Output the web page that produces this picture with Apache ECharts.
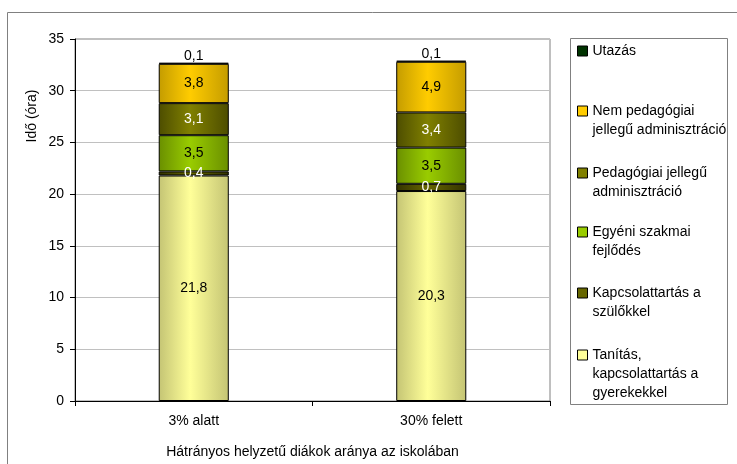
<!DOCTYPE html>
<html>
<head>
<meta charset="utf-8">
<script src="https://cdn.jsdelivr.net/npm/echarts@6/dist/echarts.min.js"></script>
<style>
  html, body { margin: 0; padding: 0; background: #fff; }
  #chart { width: 737px; height: 464px; }
</style>
</head>
<body>
<div id="chart"></div>
<script>
// kategóriák és értékek (óra)
const categories = ["3% alatt", "30% felett"];
const tanitas = [21.8, 20.3];
const szulok = [0.4, 0.7];
const fejlodes = [3.5, 3.5];
const pedAdmin = [3.1, 3.4];
const nemPedAdmin = [3.8, 4.9];
const utazas = [0.1, 0.1];
const yTicks = { min: 0, max: 35, interval: 5 };

const FONT = "Liberation Sans, Arial, sans-serif";

function grad(edge, mid) {
  return new echarts.graphic.LinearGradient(0, 0, 1, 0, [
    { offset: 0, color: edge },
    { offset: 0.45, color: mid },
    { offset: 1, color: edge },
  ]);
}

const fmt = (p) => String(p.value).replace(".", ",");

// sorozatok alulról felfelé
const seriesDefs = [
  { name: "Tanítás", data: tanitas, edge: "#c4c474", mid: "#ffff99", solid: "#ffff99", label: "#000", legend: ["Tanítás,", "kapcsolattartás a", "gyerekekkel"], y: 354 },
  { name: "Kapcsolattartás a szülőkkel", data: szulok, edge: "#333300", mid: "#666600", solid: "#666600", label: "#fff", legend: ["Kapcsolattartás a", "szülőkkel"], y: 292 },
  { name: "Egyéni szakmai fejlődés", data: fejlodes, edge: "#6a8f00", mid: "#99cc00", solid: "#99cc00", label: "#000", legend: ["Egyéni szakmai", "fejlődés"], y: 231 },
  { name: "Pedagógiai jellegű adminisztráció", data: pedAdmin, edge: "#4d4d00", mid: "#808000", solid: "#808000", label: "#fff", legend: ["Pedagógiai jellegű", "adminisztráció"], y: 172 },
  { name: "Nem pedagógiai jellegű adminisztráció", data: nemPedAdmin, edge: "#c49c00", mid: "#ffcc00", solid: "#ffcc00", label: "#000", legend: ["Nem pedagógiai", "jellegű adminisztráció"], y: 110 },
  { name: "Utazás", data: utazas, edge: "#003300", mid: "#003300", solid: "#003300", label: "#000", legend: ["Utazás"], y: 50 },
];

const LH = 19;

const series = seriesDefs.map((s, i) => ({
  name: s.name,
  type: "bar",
  stack: "ido",
  barWidth: "29.5%",
  data: s.data,
  itemStyle: { color: grad(s.edge, s.mid), borderColor: "#000", borderWidth: 1 },
  label: {
    show: true,
    position: i === seriesDefs.length - 1 ? "top" : "inside",
    distance: 0,
    color: s.label,
    fontFamily: FONT,
    fontSize: 14,
    formatter: fmt,
  },
  emphasis: { disabled: true },
}));

// a legenda szövege középre igazodik, ezért üres sorokkal toljuk az első sort az ikon mellé
const legends = seriesDefs.map((s) => {
  const n = s.legend.length;
  const pad = new Array(n - 1).fill(" ");
  return {
    data: [s.name],
    orient: "vertical",
    left: 577,
    top: s.y - ((2 * n - 1) * LH) / 2 + 1,
    padding: 0,
    icon: "rect",
    itemWidth: 10,
    itemHeight: 10,
    selectedMode: false,
    itemStyle: { color: s.solid, borderColor: "#000", borderWidth: 1 },
    formatter: () => pad.concat(s.legend).join("\n"),
    textStyle: {
      fontFamily: FONT,
      fontSize: 14,
      color: "#000",
      lineHeight: LH,
    },
  };
});

const chart = echarts.init(document.getElementById("chart"));
chart.setOption({
  animation: false,
  backgroundColor: "#fff",
  grid: {
    left: 75,
    right: 187,
    top: 39,
    bottom: 61,
    show: true,
    borderColor: "#808080",
    borderWidth: 1,
  },
  legend: legends,
  graphic: [
    {
      type: "rect",
      shape: { x: 7.5, y: 12.5, width: 800, height: 500 },
      style: { fill: "none", stroke: "#808080", lineWidth: 1 },
      silent: true,
    },
    {
      type: "rect",
      shape: { x: 570.5, y: 38.5, width: 157, height: 366 },
      style: { fill: "none", stroke: "#808080", lineWidth: 1 },
      silent: true,
    },
    {
      type: "text",
      x: 32,
      y: 116,
      rotation: Math.PI / 2,
      style: {
        text: "Idő (óra)",
        fontFamily: FONT,
        fontSize: 14,
        fill: "#000",
        align: "center",
        verticalAlign: "middle",
      },
      silent: true,
    },
  ],
  xAxis: {
    type: "category",
    data: categories,
    name: "Hátrányos helyzetű diákok aránya az iskolában",
    nameLocation: "middle",
    nameGap: 44,
    nameTextStyle: { fontFamily: FONT, fontSize: 14, color: "#000" },
    axisLine: { lineStyle: { color: "#000", width: 1 } },
    axisTick: { show: true, length: 5, lineStyle: { color: "#000" } },
    axisLabel: { fontFamily: FONT, fontSize: 14, color: "#000", margin: 13 },
  },
  yAxis: {
    type: "value",
    min: yTicks.min,
    max: yTicks.max,
    interval: yTicks.interval,
    axisLine: { show: true, lineStyle: { color: "#000", width: 1 } },
    axisTick: { show: true, length: 5, lineStyle: { color: "#000" } },
    axisLabel: { fontFamily: FONT, fontSize: 14, color: "#000", margin: 11 },
    splitLine: { lineStyle: { color: "#c0c0c0", width: 1 } },
  },
  series: series,
});
</script>
</body>
</html>
